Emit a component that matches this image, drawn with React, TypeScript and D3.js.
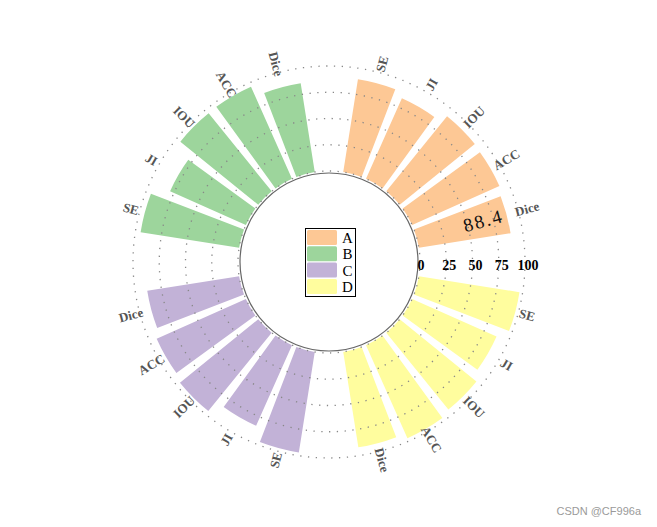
import React from "react";
import * as d3 from "d3";

const metrics = ["SE", "JI", "IOU", "ACC", "Dice"];
const groups = ["A", "B", "C", "D"];
const valuesA = [89.5, 84, 92, 91, 88.4];
const valuesB = [95, 79, 95.5, 96, 85.7];
const valuesC = [97, 84, 96, 93, 88.6];
const valuesD = [97, 88, 94, 97, 92];
const groupColors = ["#fdc895", "#9dd59c", "#c2b2d7", "#fffd9e"];
// clockwise slot order from north: gap, A, gap, D, gap, C, gap, B
const slotGroupOrder = ["A", "D", "C", "B"];
const radiusTicks = [0, 25, 50, 75, 100];
const highlightLabel = { group: "A", metric: "Dice" };

const W = 657;
const H = 527;
const cx = 329;
const cy = 262;

export default function App() {
  const valuesByGroup: Record<string, number[]> = {
    A: valuesA,
    B: valuesB,
    C: valuesC,
    D: valuesD,
  };
  const colorByGroup: Record<string, string> = {};
  groups.forEach((g, i) => (colorByGroup[g] = groupColors[i]));

  const slots: string[] = [];
  slotGroupOrder.forEach((g, gi) => {
    slots.push("gap" + gi);
    metrics.forEach((m) => slots.push(g + "|" + m));
  });

  const step = (2 * Math.PI) / slots.length;
  const angle = d3
    .scaleBand<string>()
    .domain(slots)
    .range([-step / 2, 2 * Math.PI - step / 2])
    .paddingInner(0.2)
    .paddingOuter(0.1);

  const r = d3.scaleLinear().domain([0, 100]).range([91, 196]);

  const arc = d3.arc<any>();

  const bars: any[] = [];
  slotGroupOrder.forEach((g) => {
    metrics.forEach((m, mi) => {
      const key = g + "|" + m;
      const a0 = angle(key)!;
      bars.push({
        key,
        group: g,
        metric: m,
        value: valuesByGroup[g][mi],
        a0,
        a1: a0 + angle.bandwidth(),
      });
    });
  });

  const deg = (a: number) => (a * 180) / Math.PI;

  return (
    <svg
      width={W}
      height={H}
      style={{ position: "absolute", left: 0, top: 0, background: "#fff" }}
    >
      <g transform={`translate(${cx},${cy})`}>
        {bars.map((b) => (
          <path
            key={b.key}
            d={
              arc({
                innerRadius: r(0),
                outerRadius: r(b.value),
                startAngle: b.a0,
                endAngle: b.a1,
              }) as string
            }
            fill={colorByGroup[b.group]}
          />
        ))}
        {radiusTicks.map((t) => (
          <circle
            key={"g" + t}
            r={r(t)}
            fill="none"
            stroke="#888"
            strokeWidth={1.3}
            strokeDasharray="1.3,6.5"
          />
        ))}
        <circle r={r(0) - 2} fill="none" stroke="#666" strokeWidth={1.2} />
        {bars.map((b) => {
          const mid = (b.a0 + b.a1) / 2;
          const d = deg(mid);
          const lr = r(100) + 9;
          const x = lr * Math.sin(mid);
          const y = -lr * Math.cos(mid);
          const rot = d < 180 ? d - 90 : d + 90;
          return (
            <text
              key={"l" + b.key}
              transform={`translate(${x},${y}) rotate(${rot})`}
              textAnchor="middle"
              dominantBaseline="central"
              fontFamily="'Liberation Serif', serif"
              fontWeight="bold"
              fontSize={13}
              fill="#555"
            >
              {b.metric}
            </text>
          );
        })}
        {bars
          .filter(
            (b) =>
              b.group === highlightLabel.group &&
              b.metric === highlightLabel.metric
          )
          .map((b) => {
            const mid = (b.a0 + b.a1) / 2;
            const lr = r(b.value) - 24;
            const x = lr * Math.sin(mid);
            const y = -lr * Math.cos(mid);
            return (
              <text
                key="hl"
                transform={`translate(${x},${y}) rotate(${deg(mid) - 90})`}
                textAnchor="middle"
                dominantBaseline="central"
                fontFamily="'Liberation Serif', serif"
                fontSize={19}
                letterSpacing={2}
                fill="#111"
              >
                {b.value}
              </text>
            );
          })}
        {radiusTicks.map((t) => (
          <text
            key={"t" + t}
            x={r(t) + (t === 0 ? 1 : 3)}
            y={8}
            textAnchor="middle"
            fontFamily="'Liberation Serif', serif"
            fontWeight="bold"
            fontSize={14}
            fill="#000"
          >
            {t}
          </text>
        ))}
      </g>
      <g transform="translate(305.5,228.5)">
        <rect width={50} height={68} fill="#fff" stroke="#000" strokeWidth={1} />
        {groups.map((g, i) => (
          <g key={"lg" + g} transform={`translate(0,${1.5 + i * 16.3})`}>
            <rect x={1.5} y={0} width={30} height={15} rx={1.5} fill={colorByGroup[g]} />
            <text
              x={42}
              y={8}
              textAnchor="middle"
              dominantBaseline="central"
              fontFamily="'Liberation Serif', serif"
              fontSize={15}
              fill="#000"
            >
              {g}
            </text>
          </g>
        ))}
      </g>
      <text
        x={641}
        y={515}
        textAnchor="end"
        fontFamily="'Liberation Sans', Arial, sans-serif"
        fontSize={11}
        fill="#9a9a9a"
      >
        CSDN @CF996a
      </text>
    </svg>
  );
}
